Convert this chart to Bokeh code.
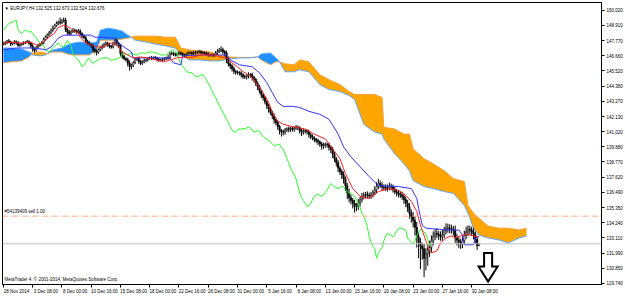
import numpy as np
from bokeh.plotting import figure
from bokeh.models import Range1d, FixedTicker, Span, Label, PrintfTickFormatter
from bokeh.embed import file_html
from bokeh.resources import INLINE

# ---------------- data (bar index = H4 bar counted from 28 Nov 2014 16:00) ----------------
close = [
    147.55, 147.62, 147.75, 147.68, 147.52, 147.58, 147.70, 147.60, 147.42, 147.48,
    147.55, 147.62, 147.66, 147.70, 147.58, 147.38, 147.15, 147.05, 147.30, 147.42,
    147.50, 147.62, 147.85, 148.05, 148.20, 148.35, 148.55, 148.70, 148.90, 149.05,
    149.15, 149.10, 149.25, 149.30, 148.60, 148.40, 148.30, 148.45, 148.55, 148.50,
    148.40, 148.50, 148.30, 148.10, 148.00, 147.75, 147.60, 147.50, 147.40, 147.10,
    147.00, 146.92, 147.10, 147.25, 147.35, 147.50, 147.60, 147.45, 147.35, 147.30,
    147.55, 147.80, 147.60, 147.40, 146.80, 146.60, 146.45, 146.35, 146.10, 145.85,
    145.95, 146.15, 146.40, 146.45, 146.25, 146.10, 146.20, 146.30, 146.35, 146.45,
    146.50, 146.45, 146.52, 146.48, 146.38, 146.32, 146.35, 146.38, 146.42, 146.48,
    146.52, 146.80, 146.85, 146.75, 146.70, 146.80, 146.86, 146.80, 146.72, 146.70,
    146.78, 146.85, 146.88, 146.82, 146.86, 146.90, 146.92, 146.95, 146.90, 146.86,
    146.85, 146.78, 146.72, 146.70, 146.72, 146.70, 146.85, 146.95, 147.05, 147.10,
    146.95, 146.85, 146.40, 146.05, 145.90, 145.70, 145.50, 145.42, 145.40, 145.38,
    145.25, 145.10, 145.08, 145.15, 145.22, 145.25, 145.05, 144.88, 144.60, 144.35,
    144.05, 143.75, 143.55, 143.25, 142.95, 142.70, 142.45, 142.20, 141.90, 141.70,
    141.40, 141.10, 141.00, 140.98, 141.15, 141.22, 141.18, 141.25, 141.20, 141.28,
    141.35, 141.30, 141.10, 140.98, 141.05, 141.08, 141.02, 140.80, 140.65, 140.55,
    140.45, 140.35, 140.25, 140.10, 139.95, 140.00, 140.08, 140.05, 139.85, 139.70,
    139.35, 139.00, 138.70, 138.30, 138.05, 137.80, 137.50, 137.00, 136.45, 136.10,
    135.90, 135.70, 135.45, 135.50, 135.70, 135.95, 136.20, 136.30, 136.35, 136.28,
    136.22, 136.30, 136.50, 136.68, 136.95, 137.15, 137.05, 136.90, 136.85, 136.78,
    136.85, 136.95, 136.90, 136.70, 136.55, 136.45, 136.40, 136.30, 136.20, 135.95,
    135.70, 135.40, 134.95, 134.70, 134.40, 133.90, 133.20, 132.80, 132.50, 132.30,
    131.60, 131.95, 132.20, 132.40, 132.90, 133.25, 133.45, 133.38, 133.30, 133.20,
    133.35, 133.65, 133.80, 133.85, 133.80, 133.75, 133.68, 133.10, 132.95, 132.80,
    132.65, 132.90, 133.30, 133.55, 133.75, 133.70, 133.55, 133.40, 133.00, 132.525,
    132.676,
]
first_open = 147.50

wick_up = [
    .10, .12, .08, .15, .10, .06, .12, .09, .14, .10, .08, .11, .07, .13, .10, .09, .16, .12, .08, .10,
    .09, .12, .15, .10, .11, .14, .12, .18, .10, .15, .12, .35, .14, .20, .15, .12, .18, .10, .16, .12,
    .10, .14, .12, .09, .15, .11, .10, .13, .08, .12, .10, .14, .09, .12, .16, .10, .12, .09, .14, .11,
    .15, .20, .12, .10, .14, .16, .12, .09, .15, .20, .12, .10, .14, .11, .13, .10, .12, .15, .09, .11,
    .10, .13, .08, .12, .10, .14, .09, .11, .12, .10, .20, .15, .12, .10, .13, .09, .14, .10, .12, .08,
    .11, .13, .10, .09, .15, .12, .10, .14, .11, .09, .12, .10, .13, .08, .11, .10, .15, .20, .18, .25,
    .15, .12, .18, .14, .10, .12, .16, .10, .14, .11, .12, .09, .15, .13, .20, .12, .14, .10, .12, .15,
    .12, .10, .14, .11, .09, .13, .10, .12, .15, .10, .14, .12, .10, .16, .13, .11, .18, .12, .14, .10,
    .15, .12, .10, .14, .20, .12, .11, .13, .10, .15, .12, .09, .14, .11, .16, .20, .12, .10, .15, .12,
    .18, .15, .12, .20, .14, .16, .25, .18, .20, .30, .22, .18, .25, .20, .30, .22, .26, .20, .18, .22,
    .20, .24, .18, .26, .30, .35, .22, .20, .18, .25, .22, .28, .20, .18, .24, .20, .22, .18, .25, .20,
    .22, .25, .30, .28, .35, .30, .40, .35, .30, .25, .35, .40, .45, .50, .40, .35, .30, .40, .25, .30,
    .35, .30, .40, .32, .28, .30, .25, .35, .30, .28, .25, .30, .35, .40, .30, .28, .25, .30, .20, .25,
    .00,
]
wick_dn = [
    .08, .12, .10, .09, .15, .10, .08, .12, .10, .14, .09, .11, .10, .08, .12, .15, .20, .18, .10, .12,
    .10, .08, .12, .10, .09, .11, .10, .12, .08, .10, .12, .14, .10, .12, .18, .20, .15, .12, .10, .14,
    .12, .10, .15, .12, .10, .14, .12, .10, .15, .20, .18, .25, .12, .10, .14, .12, .10, .13, .15, .12,
    .10, .12, .15, .14, .20, .18, .15, .12, .25, .30, .20, .15, .12, .14, .20, .15, .12, .10, .14, .12,
    .10, .12, .09, .14, .15, .12, .10, .12, .11, .10, .12, .14, .10, .12, .11, .10, .13, .12, .10, .14,
    .12, .10, .09, .12, .10, .14, .11, .10, .12, .10, .13, .12, .15, .10, .12, .14, .10, .12, .10, .15,
    .20, .25, .30, .20, .25, .22, .20, .18, .15, .20, .22, .18, .15, .20, .18, .20, .25, .22, .20, .25,
    .20, .25, .22, .20, .25, .28, .20, .25, .30, .22, .25, .30, .35, .25, .20, .18, .22, .20, .18, .20,
    .15, .18, .25, .30, .20, .18, .22, .25, .20, .18, .22, .20, .25, .22, .28, .20, .18, .22, .25, .28,
    .30, .25, .28, .30, .25, .30, .35, .40, .45, .35, .30, .40, .45, .35, .30, .25, .20, .22, .25, .20,
    .22, .20, .18, .22, .25, .20, .22, .25, .20, .18, .22, .20, .25, .22, .20, .25, .28, .22, .25, .30,
    .30, .35, .40, .45, .50, .60, .80, 1.20, 1.70, .80, 1.40, .90, .90, .50, .40, .35, .30, .28, .35, .30,
    .30, .25, .28, .30, .35, .30, .40, .35, .40, .45, .35, .30, .25, .28, .30, .35, .30, .40, .35, .30,
    .00,
]

tenkan_bar = [0, 4, 10, 15, 18, 21, 25, 28, 30, 33, 36, 38, 41, 42, 45, 48, 52, 55, 58, 60, 63, 65, 68, 71,
              75, 79, 84, 88, 91, 95, 98, 101, 104, 108, 111, 115, 119, 122, 125, 128, 131, 134, 136, 139,
              142, 145, 147, 150, 153, 157, 160, 165, 170, 176, 180, 184, 187, 191, 195, 199, 203, 205,
              211, 216, 220, 223, 226, 228, 231, 233, 234, 237, 239, 242, 245, 247, 250, 253, 257, 260]
tenkan_val = [147.59, 147.67, 147.59, 147.67, 147.45, 147.59, 148.03, 148.33, 148.77, 148.92, 148.77, 148.55,
              148.33, 148.03, 147.59, 147.45, 147.30, 147.30, 147.59, 147.59, 147.30, 146.93, 146.71, 146.49,
              146.56, 146.49, 146.34, 146.20, 146.34, 146.49, 146.56, 146.49, 146.56, 146.71, 146.71, 146.71,
              146.56, 146.49, 146.12, 145.83, 145.46, 145.24, 145.02, 144.51, 143.92, 143.18, 142.45, 141.78,
              141.56, 141.42, 141.34, 141.20, 140.83, 140.46, 139.73, 139.00, 137.89, 136.78, 136.20, 136.05,
              136.34, 136.56, 136.78, 136.64, 136.27, 135.83, 135.09, 134.06, 132.89, 132.15, 132.00, 132.15,
              132.74, 133.11, 133.26, 133.11, 133.26, 133.40, 133.26, 133.18]

kijun_bar = [0, 7, 15, 21, 23, 26, 30, 33, 41, 48, 50, 55, 60, 63, 66, 70, 71, 80, 91, 93, 97, 98, 108, 122,
             124, 129, 136, 140, 144, 147, 150, 153, 158, 162, 167, 173, 178, 183, 186, 190, 195, 200, 205,
             216, 223, 226, 227, 229, 231, 242, 249, 251, 252, 257, 258, 260]
kijun_val = [147.08, 147.23, 147.23, 147.15, 147.08, 147.30, 147.96, 148.18, 148.18, 148.18, 148.03, 148.03,
             147.96, 147.59, 147.30, 146.93, 146.49, 146.49, 146.49, 146.12, 145.98, 146.64, 146.71, 146.71,
             146.34, 145.98, 145.83, 145.39, 144.65, 143.92, 143.18, 142.89, 142.89, 142.81, 142.52, 142.30,
             141.93, 140.83, 139.87, 139.14, 138.40, 137.67, 137.00, 136.93, 136.78, 136.05, 135.31, 134.06,
             133.84, 133.70, 133.70, 133.33, 132.60, 132.60, 133.11, 133.26]

cloud_bar = [0, 4, 10, 14, 16, 20, 23, 24, 27, 32, 35, 38, 42, 47, 51, 53, 57, 61, 65, 68, 70, 72, 78, 83,
             89, 94, 97, 102, 108, 113, 118, 124, 129, 135, 139, 141, 146, 149, 151, 154, 159, 162, 167,
             173, 178, 184, 189, 192, 197, 203, 207, 208, 214, 219, 222, 224, 230, 235, 241, 246, 252,
             254, 257, 260, 265, 271, 276, 282, 286]
senkou_a = [147.23, 147.23, 147.15, 146.93, 146.71, 146.64, 146.71, 146.82, 147.08, 147.23, 147.45, 147.59,
            147.67, 147.59, 147.67, 148.55, 148.70, 148.62, 148.48, 148.18, 148.03, 147.81, 147.67, 147.52,
            147.37, 147.23, 146.71, 146.34, 146.34, 146.27, 146.27, 146.42, 146.49, 146.49, 146.56, 146.78,
            146.86, 146.49, 146.20, 145.46, 145.46, 145.61, 145.46, 144.51, 144.14, 143.99, 143.70, 143.40,
            141.56, 140.98, 140.83, 140.46, 139.36, 138.62, 138.11, 137.37, 136.93, 136.78, 136.56, 136.42,
            135.53, 134.95, 133.84, 133.33, 133.11, 132.96, 132.74, 133.11, 133.26]
senkou_b = [146.12, 146.20, 146.27, 146.56, 146.86, 146.93, 146.86, 146.82, 146.93, 146.93, 146.78, 146.71,
            146.71, 146.71, 147.08, 147.81, 147.81, 147.81, 147.89, 147.96, 148.03, 148.11, 148.11, 148.11,
            148.03, 148.03, 147.23, 147.08, 147.01, 146.93, 146.71, 146.56, 146.53, 146.53, 146.56, 146.34,
            145.98, 146.20, 146.20, 146.05, 145.98, 146.34, 146.20, 145.24, 144.87, 144.51, 143.99, 143.77,
            143.77, 143.77, 143.55, 141.34, 141.20, 140.83, 140.83, 139.73, 139.00, 138.62, 138.11, 137.52,
            137.30, 135.53, 134.95, 134.58, 133.99, 133.84, 133.84, 133.70, 133.84]

chikou_shift = 26
x_tick_bars = [0, 16, 32, 48, 64, 80, 96, 112, 128, 144, 160, 176, 192, 208, 224, 240, 256]
x_tick_labels = ["28 Nov 2014", "3 Dec 08:00", "8 Dec 00:00", "10 Dec 16:00", "15 Dec 08:00",
                 "18 Dec 00:00", "22 Dec 16:00", "26 Dec 08:00", "31 Dec 00:00", "5 Jan 16:00",
                 "8 Jan 08:00", "13 Jan 00:00", "15 Jan 16:00", "20 Jan 08:00", "23 Jan 00:00",
                 "27 Jan 16:00", "30 Jan 08:00"]
y_ticks = [150.020, 148.910, 147.770, 146.660, 145.520, 144.380, 143.270, 142.130, 141.020, 139.880,
           138.770, 137.620, 136.490, 135.350, 134.240, 133.110, 131.990, 130.850, 129.740]

order_price = 134.73
order_text = "#54139409 sell 1.00"
last_price = 132.676
title_text = "\u25BC EURJPY,H4  132.525 132.673 132.524 132.676"
footer_text = "MetaTrader 4, \u00A9 2001-2014, MetaQuotes Software Corp."

arrow_bar = 265.0
arrow_top = 132.0
arrow_neck = 130.98
arrow_tip = 129.87
arrow_shaft_half = 2.2
arrow_head_half = 5.2

# ---------------- figure ----------------
X0, X1 = -0.5, 327.0
Y0, Y1 = 129.65, 150.61
FONT = "Liberation Sans"
FS = "4.5px"

p = figure(width=625, height=296, x_range=Range1d(X0, X1), y_range=Range1d(Y0, Y1),
           y_axis_location="right", output_backend="svg", toolbar_location=None,
           min_border_left=2, min_border_top=2, min_border_right=0, min_border_bottom=0)
p.xgrid.visible = False
p.ygrid.visible = False
p.outline_line_color = "black"
p.outline_line_width = 1
p.background_fill_color = "white"
p.border_fill_color = "white"

# x axis: labels left-aligned after small tick marks (MT4 style)
label_shift = 7.2
xa = p.xaxis[0]
xa.ticker = FixedTicker(ticks=[t + label_shift for t in x_tick_bars], minor_ticks=x_tick_bars)
xa.major_label_overrides = {t + label_shift: lab for t, lab in zip(x_tick_bars, x_tick_labels)}
xa.major_tick_line_color = None
xa.major_tick_out = 0
xa.major_tick_in = 0
xa.minor_tick_out = 3
xa.minor_tick_in = 0
xa.minor_tick_line_color = "black"
xa.major_label_standoff = 1
xa.major_label_text_font = FONT
xa.major_label_text_font_size = FS
xa.major_label_text_color = "black"
xa.axis_line_color = "black"

ya = p.yaxis[0]
ya.ticker = FixedTicker(ticks=y_ticks)
ya.formatter = PrintfTickFormatter(format="%.3f")
ya.major_tick_out = 3
ya.major_tick_in = 0
ya.minor_tick_line_color = None
ya.major_label_standoff = 2
ya.major_label_text_font = FONT
ya.major_label_text_font_size = FS
ya.major_label_text_color = "black"
ya.axis_line_color = "black"

# ---------------- cloud ----------------
ca = np.array(senkou_a)
cb = np.array(senkou_b)
ctop = np.maximum(ca, cb)
p.varea(x=cloud_bar, y1=ca, y2=ctop, color="#FFA500")   # Span B above Span A
p.varea(x=cloud_bar, y1=cb, y2=ctop, color="#1E90FF")   # Span A above Span B
p.line(cloud_bar, senkou_b, color="#F4A040", line_width=1)
p.line(cloud_bar, senkou_a, color="#5AA8FF", line_width=1)

# horizontal levels
p.add_layout(Span(location=last_price, dimension="width", line_color="#C0C0C0", line_width=1))
p.add_layout(Span(location=order_price, dimension="width", line_color="#FFA07A", line_width=1,
                  line_dash="5 2 1 2"))

# ---------------- candles ----------------
c = np.array(close)
o = np.array([first_open] + close[:-1])
bars = np.arange(len(close))
hi = np.maximum(o, c) + np.array(wick_up)
lo = np.minimum(o, c) - np.array(wick_dn)
up = c >= o
p.segment(x0=bars, y0=lo, x1=bars, y1=hi, line_color="black", line_width=1)
p.vbar(x=bars[up], width=0.75, top=c[up], bottom=o[up], fill_color="white", line_color="black", line_width=0.6)
p.vbar(x=bars[~up], width=0.75, top=o[~up], bottom=c[~up], fill_color="black", line_color="black", line_width=0.6)

# ---------------- Ichimoku lines ----------------
p.line(bars[chikou_shift:] - chikou_shift, c[chikou_shift:], color="#22FF22", line_width=1)
p.line(kijun_bar, kijun_val, color="#3333FF", line_width=1)
p.line(tenkan_bar, tenkan_val, color="#FF2020", line_width=1)

# ---------------- arrow ----------------
ax = [arrow_bar - arrow_shaft_half, arrow_bar + arrow_shaft_half, arrow_bar + arrow_shaft_half,
      arrow_bar + arrow_head_half, arrow_bar, arrow_bar - arrow_head_half, arrow_bar - arrow_shaft_half]
ay = [arrow_top, arrow_top, arrow_neck, arrow_neck, arrow_tip, arrow_neck, arrow_neck]
p.patch(ax, ay, fill_color="white", line_color="black", line_width=2, line_join="miter")

# ---------------- texts ----------------
p.add_layout(Label(x=X0, y=Y1, x_offset=2, y_offset=-3, text=title_text, text_font=FONT,
                   text_font_size=FS, text_color="black", text_baseline="top", text_align="left"))
p.add_layout(Label(x=X0, y=order_price, x_offset=2, y_offset=2, text=order_text, text_font=FONT,
                   text_font_size=FS, text_color="black", text_baseline="bottom", text_align="left"))
p.add_layout(Label(x=X0, y=Y0, x_offset=2, y_offset=3, text=footer_text, text_font=FONT,
                   text_font_size=FS, text_color="black", text_baseline="bottom", text_align="left"))
p.add_layout(Label(x=X1, y=last_price, x_offset=1, text="132.676", text_font=FONT,
                   text_font_size=FS, text_color="white", background_fill_color="black",
                   text_baseline="middle", text_align="left"))

open("out.html", "w").write(file_html(p, INLINE))
